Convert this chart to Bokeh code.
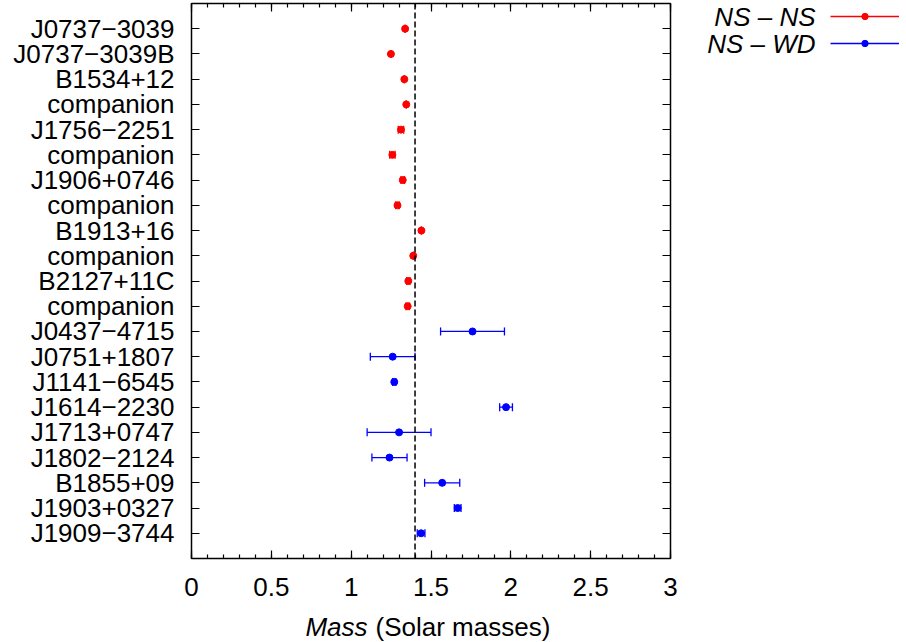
import math
from bokeh.plotting import figure
from bokeh.models import (ColumnDataSource, Range1d, FixedTicker, SingleIntervalTicker,
                          LinearAxis, Span, Label, Legend, LegendItem)
from bokeh.embed import file_html
from bokeh.resources import INLINE

# ---------------- data ----------------
ns_ns_names = ["J0737\u22123039", "J0737\u22123039B", "B1534+12", "companion",
               "J1756\u22122251", "companion", "J1906+0746", "companion",
               "B1913+16", "companion", "B2127+11C", "companion"]
ns_ns_mass = [1.338, 1.249, 1.333, 1.345, 1.312, 1.258, 1.323, 1.290, 1.440, 1.389, 1.358, 1.354]
ns_ns_err = [0.001, 0.001, 0.001, 0.001, 0.017, 0.017, 0.011, 0.011, 0.001, 0.001, 0.010, 0.010]

ns_wd_names = ["J0437\u22124715", "J0751+1807", "J1141\u22126545", "J1614\u22122230",
               "J1713+0747", "J1802\u22122124", "B1855+09", "J1903+0327", "J1909\u22123744"]
ns_wd_mass = [1.76, 1.26, 1.27, 1.97, 1.30, 1.24, 1.57, 1.667, 1.438]
ns_wd_err = [0.20, 0.14, 0.01, 0.04, 0.20, 0.11, 0.11, 0.021, 0.024]

series_labels = ["NS \u2013 NS", "NS \u2013 WD"]
series_colors = ["#ff0000", "#0000ff"]

chandrasekhar_mass = 1.4
x_ticks = [0, 0.5, 1, 1.5, 2, 2.5, 3]
x_tick_labels = ["0", "0.5", "1", "1.5", "2", "2.5", "3"]
x_min, x_max = 0, 3
x_label_italic = "Mass"
x_label_rest = "(Solar masses)"

# ---------------- layout constants (canvas pixels) ----------------
W, H = 906, 642
FL, FR, FT, FB = 191, 670, 3, 558
FW, FH = FR - FL, FB - FT
FONT = "Liberation Sans"
FS = "26px"

all_names = ns_ns_names + ns_wd_names
n = len(all_names)
y_max = n + 1
y_pos = [n - i for i in range(n)]

def px_x(px):
    return x_min + (px - FL) / FW * (x_max - x_min)

def px_y(py):
    return y_max * (1 - (py - FT) / FH)

p = figure(width=W, height=H, frame_width=FW, frame_height=FH,
           x_range=Range1d(x_min, x_max), y_range=Range1d(0, y_max),
           x_axis_type=None, y_axis_type=None,
           output_backend="svg", toolbar_location=None,
           min_border_left=FL, min_border_right=W - FR,
           min_border_top=FT, min_border_bottom=H - FB)
p.xgrid.visible = False
p.ygrid.visible = False
p.outline_line_color = "black"
p.outline_line_width = 1.5
p.background_fill_color = "white"
p.border_fill_color = "white"

def style_x_axis(ax, show_labels):
    ax.axis_line_color = None
    ax.major_tick_in = 8
    ax.major_tick_out = 0
    ax.minor_tick_in = 4
    ax.minor_tick_out = 0
    ax.major_tick_line_color = "black"
    ax.minor_tick_line_color = "black"
    ax.major_tick_line_width = 1.2
    ax.minor_tick_line_width = 1.2
    if show_labels:
        ax.major_label_text_font = FONT
        ax.major_label_text_font_size = FS
        ax.major_label_text_color = "black"
        ax.major_label_standoff = 19
        ax.major_label_overrides = dict(zip(x_ticks, x_tick_labels))
    else:
        ax.major_label_text_font_size = "1px"
        ax.major_label_text_color = None
        ax.major_label_standoff = 0

xb = LinearAxis(ticker=SingleIntervalTicker(interval=0.5, num_minor_ticks=5))
style_x_axis(xb, True)
p.add_layout(xb, "below")
xt = LinearAxis(ticker=SingleIntervalTicker(interval=0.5, num_minor_ticks=5))
style_x_axis(xt, False)
p.add_layout(xt, "above")

def style_y_axis(ax, show_labels):
    ax.axis_line_color = None
    ax.major_tick_in = 8
    ax.major_tick_out = 0
    ax.minor_tick_line_color = None
    ax.major_tick_line_color = "black"
    ax.major_tick_line_width = 1.2
    if show_labels:
        ax.major_label_text_font = FONT
        ax.major_label_text_font_size = FS
        ax.major_label_text_color = "black"
        ax.major_label_standoff = 17
        ax.major_label_overrides = dict(zip(y_pos, all_names))
    else:
        ax.major_label_text_font_size = "1px"
        ax.major_label_text_color = None
        ax.major_label_standoff = 0

yl = LinearAxis(ticker=FixedTicker(ticks=y_pos))
style_y_axis(yl, True)
p.add_layout(yl, "left")
yr = LinearAxis(ticker=FixedTicker(ticks=y_pos))
style_y_axis(yr, False)
p.add_layout(yr, "right")

# dashed reference line
p.add_layout(Span(location=chandrasekhar_mass, dimension="height", line_color="black",
                  line_width=1.5, line_dash="6 3"))

legend_items = []
groups = [(ns_ns_mass, ns_ns_err, y_pos[:len(ns_ns_names)]),
          (ns_wd_mass, ns_wd_err, y_pos[len(ns_ns_names):])]
for (mass, err, ys), label, color in zip(groups, series_labels, series_colors):
    src = ColumnDataSource(dict(
        y=ys, mass=mass,
        lo=[m - e for m, e in zip(mass, err)],
        hi=[m + e for m, e in zip(mass, err)]))
    seg = p.segment(x0="lo", y0="y", x1="hi", y1="y", source=src,
                    line_color=color, line_width=1.3)
    for col in ("lo", "hi"):
        p.scatter(x=col, y="y", source=src, marker="dash", angle=math.pi / 2,
                  size=8, line_color=color, line_width=1.3)
    pts = p.scatter(x="mass", y="y", source=src, marker="circle", size=7,
                    fill_color=color, line_color=color)
    legend_items.append(LegendItem(label=" ", renderers=[seg, pts]))

# legend glyphs in the right panel (text drawn separately, to the left)
GH, SP, PAD = 16, 11, 5
LEG_H = 2 * PAD + 2 * GH + SP
LEG_PANEL_LEFT = 778          # where Bokeh places the legend's side panel (measured)
glyph_left, leg_top = 830, FT
legend = Legend(items=legend_items,
                location=(glyph_left - PAD - LEG_PANEL_LEFT, FB - leg_top - LEG_H),
                glyph_width=69, glyph_height=GH, label_height=GH, label_width=0,
                label_standoff=0, label_text_font_size="1px", padding=PAD, margin=0,
                spacing=SP, border_line_alpha=0, background_fill_alpha=0)
p.add_layout(legend, "right")

row1_cy = leg_top + PAD + GH / 2
for i, (label, color) in enumerate(zip(series_labels, series_colors)):
    cy = row1_cy + i * (GH + SP)
    p.add_layout(Label(x=px_x(815), y=px_y(cy), text=label, text_align="right",
                       text_baseline="middle", text_font=FONT, text_font_size=FS,
                       text_font_style="italic", text_color="black"), "right")

# x axis label: italic "Mass" + normal "(Solar masses)"
lab_y = px_y(626)
p.add_layout(Label(x=px_x(367), y=lab_y, text=x_label_italic, text_align="right",
                   text_baseline="middle", text_font=FONT, text_font_size=FS,
                   text_font_style="italic", text_color="black"), "below")
p.add_layout(Label(x=px_x(375), y=lab_y, text=x_label_rest, text_align="left",
                   text_baseline="middle", text_font=FONT, text_font_size=FS,
                   text_color="black"), "below")

open("out.html", "w").write(file_html(p, INLINE))
